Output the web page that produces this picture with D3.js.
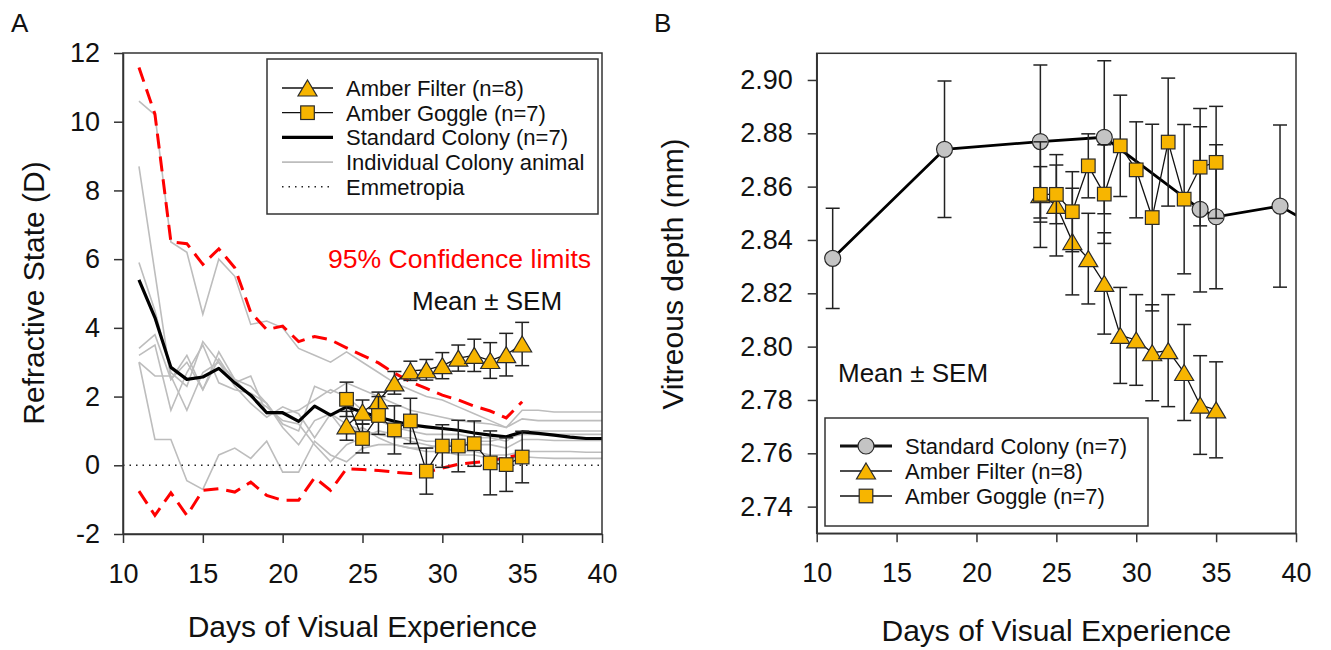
<!DOCTYPE html>
<html><head><meta charset="utf-8">
<script src="https://cdn.jsdelivr.net/npm/d3@7"></script>
<style>
body{margin:0;background:#fff;}
svg{display:block;font-family:Arial,"Liberation Sans",sans-serif;}
</style>
</head><body>
<svg id="chart" width="1331" height="650"></svg>
<script>
// ---------------- Panel A data ----------------
const daysA = d3.range(11, 41);
const colonyMeanA = [5.4,4.3,2.85,2.5,2.57,2.82,2.4,2.04,1.53,1.53,1.28,1.72,1.46,1.70,1.55,1.40,1.28,1.18,1.12,1.07,1.02,0.94,0.88,0.83,0.97,0.93,0.88,0.82,0.78,0.78];
const indiv1 = [10.6,10.2,6.5,6.2,4.4,6.0,5.5,4.1,4.2,4.0,3.4,3.2,3.0,3.3,3.0,2.7,2.4,2.2,2.0,1.9,1.7,1.5,1.3,1.1,1.6,1.6,1.55,1.55,1.55,1.55];
const indiv2 = [8.7,5.6,2.5,3.0,2.2,3.3,2.5,2.3,1.8,1.2,1.0,2.3,2.1,2.4,2.2,2.0,1.8,1.6,1.5,1.4,1.3,1.25,1.2,1.1,1.35,1.3,1.3,1.3,1.3,1.3];
const indiv3 = [5.9,4.5,2.7,2.3,3.6,3.0,2.5,2.0,1.7,1.3,1.2,0.6,0.1,0.6,0.8,1.0,0.9,0.7,0.6,0.5,0.4,0.4,0.3,0.3,0.4,0.4,0.4,0.4,0.38,0.38];
const indiv4 = [3.4,3.8,2.5,3.2,2.2,3.1,2.4,2.6,1.5,1.5,1.6,1.9,2.2,2.0,1.6,1.3,1.1,1.0,0.9,0.9,0.9,0.8,0.8,0.7,1.0,1.0,1.0,1.0,1.0,1.0];
const indiv5 = [3.2,3.5,1.6,2.7,3.5,2.4,2.2,2.1,1.8,1.1,0.6,1.3,1.5,1.2,1.0,0.9,0.8,0.8,0.7,0.7,0.6,0.6,0.6,0.5,0.75,0.75,0.72,0.72,0.72,0.72];
const indiv6 = [3.0,2.6,2.6,1.6,2.7,3.0,2.3,1.8,1.4,1.7,1.5,0.8,1.5,0.9,1.1,0.8,0.6,0.5,0.4,0.4,0.3,0.3,0.2,0.2,0.25,0.22,0.2,0.2,0.2,0.2];
const indiv7 = [3.0,0.75,0.75,-0.45,-0.7,0.3,0.5,0.2,0.7,-0.2,-0.2,0.7,0.3,0.1,0.5,0.6,0.6,0.5,0.5,0.6,0.6,0.7,0.7,0.8,0.9,0.9,0.9,0.9,0.9,0.9];
const clDays = d3.range(11, 36);
const upperCL = [11.58,10.22,6.5,6.45,5.85,6.3,5.75,4.45,3.95,4.05,3.6,3.75,3.65,3.42,3.2,2.98,2.68,2.43,2.24,2.04,1.9,1.72,1.58,1.38,1.85];
const lowerCL = [-0.75,-1.46,-0.8,-1.46,-0.73,-0.68,-0.78,-0.49,-0.88,-1.02,-1.02,-0.36,-0.73,-0.1,-0.12,-0.15,-0.2,-0.24,-0.2,-0.08,0.03,0.08,0.13,0.22,0.32];
const amberDays = d3.range(24, 36);
const filterMeanA = [1.15,1.55,1.88,2.40,2.75,2.78,2.90,3.12,3.20,3.05,3.22,3.53];
const filterSemA  = [0.42,0.35,0.25,0.33,0.28,0.30,0.38,0.38,0.47,0.52,0.62,0.63];
const goggleMeanA = [1.92,0.78,1.45,1.03,1.29,-0.17,0.56,0.56,0.63,0.07,0.02,0.24];
const goggleSemA  = [0.50,0.42,0.55,0.70,0.66,0.67,0.62,0.75,0.66,0.93,0.78,0.75];
const xTicks = [10,15,20,25,30,35,40];
const yTicksA = [-2,0,2,4,6,8,10,12];

// ---------------- Panel B data ----------------
const colonyDaysB = [11,18,24,28,34,35,39,42];
const colonyMeanB = [2.8331,2.874,2.8769,2.8785,2.8515,2.8487,2.8527,2.8425];
const colonySemB  = [0.0188,0.0256,0.0287,0.0287,0.031,0.027,0.0304,0.03];
const filterMeanB = [2.857,2.853,2.8394,2.833,2.8237,2.8042,2.8025,2.7977,2.7985,2.7903,2.7781,2.7763];
const filterSemB  = [0.0198,0.019,0.020,0.017,0.019,0.018,0.017,0.018,0.021,0.018,0.0185,0.018];
const goggleMeanB = [2.8571,2.8571,2.8506,2.8678,2.8572,2.8753,2.8663,2.8484,2.8767,2.8553,2.8673,2.8691];
const goggleSemB  = [0.0104,0.011,0.015,0.012,0.0185,0.019,0.018,0.035,0.024,0.028,0.022,0.021];
const yTicksB = [2.74,2.76,2.78,2.80,2.82,2.84,2.86,2.88,2.90];

// ---------------- styles ----------------
const AMBER = "#f7b500", GREYFILL = "#c4c4c4", SYMSTROKE = "#2b2b2b";
const svg = d3.select("#chart");

const xA = d3.scaleLinear().domain([10,40]).range([123,602]);
const yA = d3.scaleLinear().domain([-2,12]).range([534,53]);
const xB = d3.scaleLinear().domain([10,40]).range([816.7,1296]);
const yB = d3.scaleLinear().domain([2.73,2.91]).range([533.3,53.3]);

function triPath(w,h){return `M0,${-h/2}L${w/2},${h/2}L${-w/2},${h/2}Z`;}
function drawSymbol(g, type, x, y){
  if(type==="tri") g.append("path").attr("d",triPath(19,16)).attr("transform",`translate(${x},${y})`)
     .attr("fill",AMBER).attr("stroke",SYMSTROKE).attr("stroke-width",1.2);
  else if(type==="sq") g.append("rect").attr("x",x-6.8).attr("y",y-6.8).attr("width",13.6).attr("height",13.6)
     .attr("fill",AMBER).attr("stroke",SYMSTROKE).attr("stroke-width",1.2);
  else if(type==="circ") g.append("circle").attr("cx",x).attr("cy",y).attr("r",8)
     .attr("fill",GREYFILL).attr("stroke",SYMSTROKE).attr("stroke-width",1.2);
}
function drawSeries(g, xs, ys, days, means, sems, type, lineW){
  const pts = days.map((d,i)=>({d, m:means[i], s:sems[i]}));
  const eb = g.append("g").attr("stroke","#222").attr("stroke-width",1.5);
  pts.forEach(p=>{
    const x = xs(p.d);
    eb.append("line").attr("x1",x).attr("x2",x).attr("y1",ys(p.m-p.s)).attr("y2",ys(p.m+p.s));
    [p.m-p.s,p.m+p.s].forEach(v=>eb.append("line").attr("x1",x-7).attr("x2",x+7).attr("y1",ys(v)).attr("y2",ys(v)));
  });
  g.append("path").datum(pts).attr("fill","none").attr("stroke","#111").attr("stroke-width",lineW)
    .attr("d", d3.line().x(p=>xs(p.d)).y(p=>ys(p.m)));
  pts.forEach(p=>drawSymbol(g,type,xs(p.d),ys(p.m)));
}
function axes(xs, ys, yTicks, fmt, yPad){
  const gx = svg.append("g").attr("transform",`translate(0,${ys.range()[0]})`)
    .call(d3.axisBottom(xs).tickValues(xTicks).tickSize(9).tickSizeOuter(0).tickPadding(21).tickFormat(d=>String(d)));
  const gy = svg.append("g").attr("transform",`translate(${xs.range()[0]},0)`)
    .call(d3.axisLeft(ys).tickValues(yTicks).tickSize(9).tickSizeOuter(0).tickPadding(yPad).tickFormat(fmt));
  [gx,gy].forEach(g=>{
    g.selectAll("path,line").attr("stroke","#333").attr("stroke-width",1.5);
    g.selectAll("text").attr("font-size",27).attr("fill","#111").attr("font-family","Arial, 'Liberation Sans', sans-serif");
  });
  svg.append("rect").attr("x",xs.range()[0]).attr("y",ys.range()[1])
    .attr("width",xs.range()[1]-xs.range()[0]).attr("height",ys.range()[0]-ys.range()[1])
    .attr("fill","none").attr("stroke","#333").attr("stroke-width",1.5);
}

// ================= Panel A =================
const gA = svg.append("g");
const lineA = d3.line().x((v,i)=>xA(daysA[i])).y(v=>yA(v));
[indiv1,indiv2,indiv3,indiv4,indiv5,indiv6,indiv7].forEach(arr=>{
  gA.append("path").datum(arr).attr("fill","none").attr("stroke","#bdbdbd").attr("stroke-width",1.6).attr("d",lineA);
});
// emmetropia
gA.append("line").attr("x1",xA(10)).attr("x2",xA(40)).attr("y1",yA(0)).attr("y2",yA(0))
  .attr("stroke","#222").attr("stroke-width",1.5).attr("stroke-dasharray","1.5,5");
// confidence limits
const clLine = d3.line().x((v,i)=>xA(clDays[i])).y(v=>yA(v));
[upperCL, lowerCL].forEach(arr=>{
  gA.append("path").datum(arr).attr("fill","none").attr("stroke","#ff0000").attr("stroke-width",3)
    .attr("stroke-dasharray","15,8").attr("d",clLine);
});
// colony mean
gA.append("path").datum(colonyMeanA).attr("fill","none").attr("stroke","#000").attr("stroke-width",3.2)
  .attr("stroke-linejoin","round").attr("d",lineA);
drawSeries(gA.append("g"), xA, yA, amberDays, filterMeanA, filterSemA, "tri", 1.3);
drawSeries(gA.append("g"), xA, yA, amberDays, goggleMeanA, goggleSemA, "sq", 1.3);
axes(xA, yA, yTicksA, d=>String(d), 14);

// legend A
const lgA = svg.append("g");
lgA.append("rect").attr("x",267).attr("y",59).attr("width",331).attr("height",155)
  .attr("fill","#fff").attr("stroke","#333").attr("stroke-width",1.5);
const legA = [
  {t:"Amber Filter (n=8)", k:"tri"},
  {t:"Amber Goggle (n=7)", k:"sq"},
  {t:"Standard Colony (n=7)", k:"mean"},
  {t:"Individual Colony animal", k:"ind"},
  {t:"Emmetropia", k:"emm"}];
legA.forEach((e,i)=>{
  const y = 88 + i*24.7;
  const l = lgA.append("line").attr("x1",282).attr("x2",333).attr("y1",y).attr("y2",y);
  if(e.k==="tri"||e.k==="sq"){ l.attr("stroke","#111").attr("stroke-width",1.3); drawSymbol(lgA,e.k,307.5,y); }
  else if(e.k==="mean") l.attr("stroke","#000").attr("stroke-width",3.2);
  else if(e.k==="ind") l.attr("stroke","#bdbdbd").attr("stroke-width",1.6);
  else l.attr("stroke","#222").attr("stroke-width",1.5).attr("stroke-dasharray","1.5,5");
  lgA.append("text").attr("x",346).attr("y",y).attr("dy","0.36em").attr("font-size",22).attr("fill","#111").text(e.t);
});
svg.append("text").attr("x",328).attr("y",268).attr("font-size",26.6).attr("fill","#ff0000").text("95% Confidence limits");
svg.append("text").attr("x",412).attr("y",310).attr("font-size",26).attr("fill","#111").text("Mean ± SEM");

svg.append("text").attr("x",xA(25)).attr("y",637).attr("text-anchor","middle").attr("font-size",30).attr("fill","#111")
  .text("Days of Visual Experience");
svg.append("text").attr("transform","translate(44,293) rotate(-90)").attr("text-anchor","middle").attr("font-size",30).attr("fill","#111")
  .text("Refractive State (D)");
svg.append("text").attr("x",11).attr("y",32).attr("font-size",26).attr("fill","#111").text("A");

// ================= Panel B =================
const gB = svg.append("g");
svg.append("clipPath").attr("id","clipB").append("rect")
  .attr("x",xB.range()[0]).attr("y",yB.range()[1]).attr("width",xB.range()[1]-xB.range()[0]).attr("height",yB.range()[0]-yB.range()[1]);
const colPts = colonyDaysB.map((d,i)=>({d, m:colonyMeanB[i], s:colonySemB[i]}));
const gCol = gB.append("g").attr("clip-path","url(#clipB)");
colPts.forEach(p=>{
  const x = xB(p.d);
  gCol.append("line").attr("x1",x).attr("x2",x).attr("y1",yB(p.m-p.s)).attr("y2",yB(p.m+p.s)).attr("stroke","#222").attr("stroke-width",1.5);
  [p.m-p.s,p.m+p.s].forEach(v=>gCol.append("line").attr("x1",x-7).attr("x2",x+7).attr("y1",yB(v)).attr("y2",yB(v)).attr("stroke","#222").attr("stroke-width",1.5));
});
gCol.append("path").datum(colPts).attr("fill","none").attr("stroke","#000").attr("stroke-width",2.8)
  .attr("d", d3.line().x(p=>xB(p.d)).y(p=>yB(p.m)));
colPts.forEach(p=>drawSymbol(gCol,"circ",xB(p.d),yB(p.m)));
drawSeries(gB.append("g"), xB, yB, amberDays, filterMeanB, filterSemB, "tri", 1.3);
drawSeries(gB.append("g"), xB, yB, amberDays, goggleMeanB, goggleSemB, "sq", 1.3);
axes(xB, yB, yTicksB, d3.format(".2f"), 15);

// legend B
const lgB = svg.append("g");
lgB.append("rect").attr("x",825).attr("y",418).attr("width",323).attr("height",108)
  .attr("fill","#fff").attr("stroke","#333").attr("stroke-width",1.5);
const legB = [
  {t:"Standard Colony (n=7)", k:"circ", w:2.8},
  {t:"Amber Filter (n=8)", k:"tri", w:1.3},
  {t:"Amber Goggle (n=7)", k:"sq", w:1.3}];
legB.forEach((e,i)=>{
  const y = 446 + i*25;
  lgB.append("line").attr("x1",840).attr("x2",892).attr("y1",y).attr("y2",y).attr("stroke","#111").attr("stroke-width",e.w);
  drawSymbol(lgB,e.k,866,y);
  lgB.append("text").attr("x",905).attr("y",y).attr("dy","0.36em").attr("font-size",22).attr("fill","#111").text(e.t);
});
svg.append("text").attr("x",838).attr("y",382).attr("font-size",26).attr("fill","#111").text("Mean ± SEM");
svg.append("text").attr("x",xB(25)).attr("y",641).attr("text-anchor","middle").attr("font-size",30).attr("fill","#111")
  .text("Days of Visual Experience");
svg.append("text").attr("transform","translate(683,274) rotate(-90)").attr("text-anchor","middle").attr("font-size",30).attr("fill","#111")
  .text("Vitreous depth (mm)");
svg.append("text").attr("x",654).attr("y",32).attr("font-size",26).attr("fill","#111").text("B");
</script>
</body></html>
